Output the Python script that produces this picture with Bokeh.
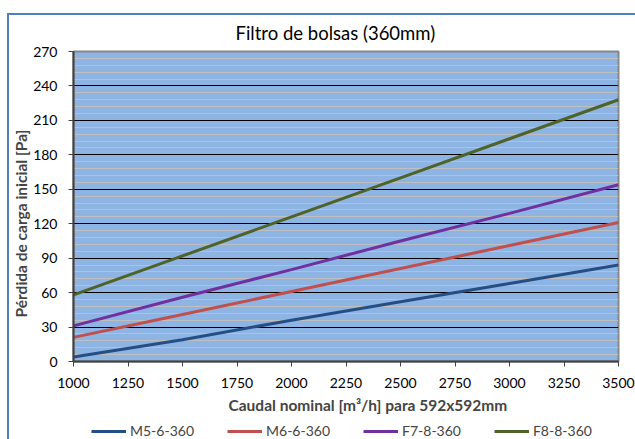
from bokeh.plotting import figure
from bokeh.layouts import column
from bokeh.models import (Range1d, SingleIntervalTicker, Legend, LegendItem, Title,
                          InlineStyleSheet)
from bokeh.embed import file_html
from bokeh.resources import INLINE

# ---- data ----
caudal = [1000, 1500, 2000, 2500, 3000, 3500]
m5_6_360 = [4, 19, 36, 52, 68, 84]
m6_6_360 = [21, 41, 61, 81, 101, 121]
f7_8_360 = [31, 56, 80, 105, 129, 154]
f8_8_360 = [58, 92, 126, 160, 194, 228]
series_names = ["M5-6-360", "M6-6-360", "F7-8-360", "F8-8-360"]
series_values = [m5_6_360, m6_6_360, f7_8_360, f8_8_360]
series_colors = ["#254F84", "#C0504D", "#7030A0", "#4F6228"]

title_text = "Filtro de bolsas (360mm)"
x_title = "Caudal nominal [m³/h] para 592x592mm"
y_title = "Pérdida de carga inicial [Pa]"

FONT = "Lato"

W, H_MAIN, H_LEG = 635, 418, 21
p = figure(width=W, height=H_MAIN, output_backend="svg", toolbar_location=None,
           x_range=Range1d(1000, 3500), y_range=Range1d(0, 270),
           min_border_left=73, min_border_right=17, min_border_top=51,
           min_border_bottom=57)

p.background_fill_color = "#8EB4E3"
p.border_fill_color = None
p.outline_line_color = "#868686"
p.outline_line_width = 2

# title
p.title.text = title_text
p.title.align = "left"
p.title.offset = 162
p.title.text_font = FONT
p.title.text_font_style = "normal"
p.title.text_font_size = "18.5px"
p.title.text_color = "black"
p.title.standoff = 15

# axes
p.xaxis.ticker = SingleIntervalTicker(interval=250, num_minor_ticks=0)
p.yaxis.ticker = SingleIntervalTicker(interval=30, num_minor_ticks=5)
for ax in (p.xaxis[0], p.yaxis[0]):
    ax.axis_line_color = "#404040"
    ax.axis_line_width = 2
    ax.major_tick_line_color = "#404040"
    ax.major_tick_in = 0
    ax.major_tick_out = 5
    ax.minor_tick_line_color = None
    ax.major_label_text_font = FONT
    ax.major_label_text_font_size = "14px"
    ax.major_label_text_color = "black"
p.xaxis.major_label_standoff = 11
p.yaxis.major_label_standoff = 11

# grid
p.xgrid.grid_line_color = None
p.ygrid.grid_line_color = "black"
p.ygrid.grid_line_width = 1
p.ygrid.minor_grid_line_color = "#BFBFBF"
p.ygrid.minor_grid_line_width = 1

# lines
for name, vals, col in zip(series_names, series_values, series_colors):
    p.line(caudal, vals, line_color=col, line_width=3)

# y title (left, outside the tick labels)
yt = Title(text=y_title, align="left", offset=44, text_font=FONT,
           text_font_style="bold", text_font_size="15.5px", standoff=2)
p.add_layout(yt, "left")

# x title (below)
xt = Title(text=x_title, align="left", offset=155, text_font=FONT,
           text_font_style="bold", text_font_size="15.5px", standoff=7)
p.add_layout(xt, "below")

# legend strip (separate figure so the legend is not clipped)
pl = figure(width=W, height=H_LEG, output_backend="svg", toolbar_location=None,
            x_axis_type=None, y_axis_type=None,
            x_range=Range1d(0, 1), y_range=Range1d(0, 1),
            min_border=0, min_border_left=0, min_border_right=0,
            min_border_top=0, min_border_bottom=0)
pl.outline_line_color = None
pl.background_fill_color = None
pl.border_fill_color = None
pl.grid.visible = False
leg_renderers = []
for name, col in zip(series_names, series_colors):
    leg_renderers.append(pl.line([-10, -9], [-10, -9], line_color=col, line_width=3))

legend = Legend(items=[LegendItem(label=n, renderers=[r]) for n, r in zip(series_names, leg_renderers)],
                orientation="horizontal", location=(18, 0),
                glyph_width=35, glyph_height=12, label_standoff=4, spacing=33,
                padding=0, margin=0, border_line_color=None,
                background_fill_alpha=0, label_text_font=FONT,
                label_text_font_size="14px")
pl.add_layout(legend, "center")

layout = column(p, pl, spacing=0)
# outer chart border (Excel chart area, clipped at right/bottom)
layout.stylesheets = [InlineStyleSheet(css="""
:host { position: relative; background: white; }
:host::after { content: ''; position: absolute; left: 7px; top: 13px; right: 0px; bottom: 0px;
  border-left: 2px solid #4F81BD; border-top: 2px solid #4F81BD; pointer-events: none; }
""")]

p_page = layout
open("out.html", "w").write(file_html(p_page, INLINE))
